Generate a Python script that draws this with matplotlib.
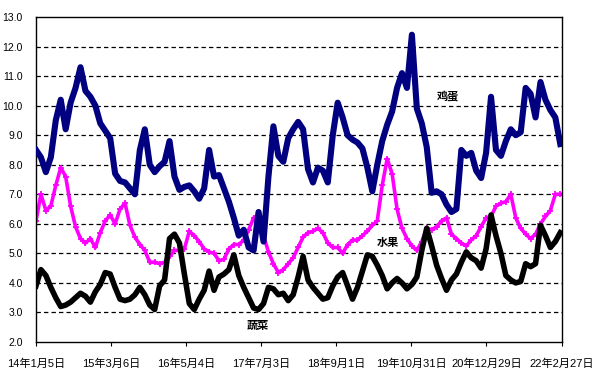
import matplotlib
matplotlib.use('Agg')
import matplotlib.pyplot as plt
import numpy as np
import pandas as pd

plt.rcParams['font.family'] = ['Liberation Sans Narrow', 'Liberation Sans', 'Noto Sans CJK SC']

# one reading every 28 days, from 2014-01-05
start = '2014-01-05'
step = '28D'

egg = [8.5, 8.25, 7.75, 8.25, 9.5, 10.2, 9.2, 10.1, 10.6, 11.3, 10.5, 10.3, 10.0, 9.4, 9.15, 8.9, 7.7, 7.45,
       7.4, 7.2, 7.0, 8.5, 9.2, 8.0, 7.75, 7.95, 8.1, 8.8, 7.6, 7.15, 7.25, 7.3, 7.1, 6.85, 7.2, 8.5,
       7.6, 7.65, 7.2, 6.75, 6.2, 5.6, 5.8, 5.2, 5.1, 6.4, 5.4, 7.6, 9.3, 8.3, 8.1, 8.9, 9.2, 9.45,
       9.2, 7.85, 7.4, 7.9, 7.8, 7.4, 9.0, 10.1, 9.6, 9.0, 8.85, 8.75, 8.55, 7.9, 7.1, 8.0, 8.8, 9.35,
       9.8, 10.6, 11.1, 10.6, 12.4, 9.9, 9.4, 8.6, 7.05, 7.1, 7.0, 6.65, 6.4, 6.5, 8.5, 8.3, 8.4,
       7.8, 7.55, 8.4, 10.3, 8.5, 8.3, 8.8, 9.2, 9.0, 9.1, 10.6, 10.4, 9.6, 10.8, 10.2, 9.85, 9.6, 8.7]

fruit = [6.1, 7.0, 6.45, 6.6, 7.3, 7.9, 7.6, 6.6, 5.9, 5.5, 5.35, 5.5, 5.2, 5.7, 6.1, 6.3, 6.0, 6.5,
         6.7, 5.95, 5.55, 5.3, 5.1, 4.7, 4.7, 4.65, 4.7, 4.9, 5.1, 5.1, 5.15, 5.75, 5.6, 5.4, 5.15, 5.05,
         5.0, 4.75, 4.8, 5.15, 5.3, 5.3, 5.45, 5.8, 6.2, 5.9, 5.6, 5.05, 4.65, 4.35, 4.45, 4.65, 4.85, 5.2,
         5.55, 5.7, 5.75, 5.85, 5.7, 5.35, 5.2, 5.2, 5.0, 5.3, 5.45, 5.45, 5.6, 5.75, 5.95, 6.1, 7.3, 8.2,
         7.7, 6.5, 5.85, 5.5, 5.25, 5.1, 5.4, 5.85, 5.8, 5.9, 6.1, 6.2, 5.65, 5.5, 5.35, 5.25, 5.45,
         5.6, 5.9, 6.2, 6.25, 6.6, 6.7, 6.75, 7.0, 6.2, 5.85, 5.65, 5.5, 5.65, 6.0, 6.25, 6.45, 7.0, 7.0]

veg = [3.9, 4.45, 4.25, 3.85, 3.5, 3.2, 3.25, 3.35, 3.5, 3.65, 3.55, 3.35, 3.7, 3.95, 4.35, 4.3, 3.85, 3.45,
       3.4, 3.45, 3.6, 3.85, 3.6, 3.25, 3.1, 3.9, 4.1, 5.5, 5.65, 5.35, 4.3, 3.3, 3.1, 3.45, 3.75, 4.4,
       3.75, 4.2, 4.3, 4.45, 4.95, 4.25, 3.85, 3.5, 3.15, 3.1, 3.3, 3.85, 3.8, 3.6, 3.65, 3.4, 3.6, 4.2,
       4.9, 4.1, 3.85, 3.65, 3.45, 3.5, 3.9, 4.2, 4.35, 3.9, 3.45, 3.85, 4.4, 4.95, 4.9, 4.6, 4.25, 3.8,
       4.0, 4.15, 4.0, 3.8, 3.95, 4.2, 5.1, 5.85, 5.25, 4.6, 4.15, 3.75, 4.1, 4.3, 4.7, 5.05, 4.85,
       4.75, 4.5, 5.15, 6.3, 5.6, 5.0, 4.25, 4.1, 4.0, 4.05, 4.65, 4.55, 4.65, 5.95, 5.6, 5.2, 5.4, 5.7]

tick_dates = ['2014-01-05', '2015-03-06', '2016-05-04', '2017-07-03',
              '2018-09-01', '2019-10-31', '2020-12-29', '2022-02-27']
tick_labels = ['14年1月5日', '15年3月6日', '16年5月4日', '17年7月3日',
               '18年9月1日', '19年10月31日', '20年12月29日', '22年2月27日']

dates = pd.date_range(start, periods=len(egg), freq=step)
ticks = pd.to_datetime(tick_dates)

fig = plt.figure(figsize=(6.12, 3.82), dpi=100)
ax = fig.add_axes([0.0588, 0.1047, 0.8587, 0.8508])

ax.plot(dates, fruit, color='#FF00FF', lw=2.6, marker='+', ms=4.5, mew=1.3, zorder=2)
ax.plot(dates, egg, color='#000080', lw=4.4, solid_joinstyle='round', zorder=3)
ax.plot(dates, veg, color='black', lw=4.0, solid_joinstyle='round', zorder=4)

ax.set_ylim(2, 13)
ax.set_yticks(np.arange(2, 13.5, 1))
ax.set_yticklabels(['%.1f' % v for v in np.arange(2, 13.5, 1)], fontsize=7.5)
ax.tick_params(axis='y', length=0, pad=9.5)
for v in range(3, 13):
    ax.axhline(v, color='black', lw=0.9, ls=(0, (3.5, 2.5)), zorder=1)

ax.set_xlim(ticks[0], ticks[-1])
ax.set_xticks(ticks)
ax.set_xticklabels(tick_labels, fontsize=8)
ax.tick_params(axis='x', length=3, width=0.8, pad=9)

for s in ax.spines.values():
    s.set_linewidth(1.0)

lab = dict(transform=ax.transAxes, ha='center', va='center', fontsize=8,
           fontweight='bold', family=['Noto Sans CJK SC'])
ax.text(0.784, 0.757, '鸡蛋', **lab)
ax.text(0.670, 0.305, '水果', **lab)
ax.text(0.4215, 0.052, '蔬菜', **lab)

fig.savefig('out.png', dpi=100)
